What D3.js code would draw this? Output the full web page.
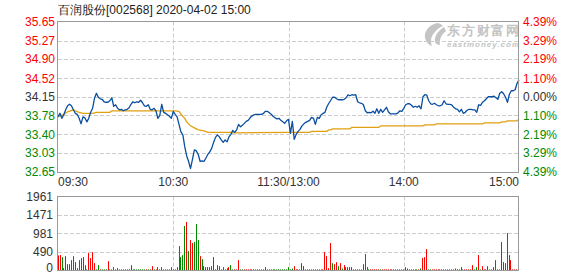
<!DOCTYPE html>
<html>
<head>
<meta charset="utf-8">
<script src="https://cdn.jsdelivr.net/npm/d3@7/dist/d3.min.js"></script>
<style>
html,body{margin:0;padding:0;background:#fff;}
svg{display:block;}
text{font-family:"Liberation Sans",Arial,sans-serif;}
</style>
</head>
<body>
<svg id="c" width="578" height="276"></svg>
<script>
// ---------------- data ----------------
const title = "百润股份[002568] 2020-04-02 15:00";
const preClose = 34.15;
const priceTicks = [35.65, 35.27, 34.90, 34.52, 34.15, 33.78, 33.40, 33.03, 32.65];
const priceTickLabels = ["35.65", "35.27", "34.90", "34.52", "34.15", "33.78", "33.40", "33.03", "32.65"];
const pctTickLabels = ["4.39%", "3.29%", "2.19%", "1.10%", "0.00%", "1.10%", "2.19%", "3.29%", "4.39%"];
const volTicks = [1961, 1471, 981, 490, 0];
const volTickLabels = ["1961", "1471", "981", "490", "0"];
const timeTickIdx = [0, 60, 120, 180, 240];
const timeTickLabels = ["09:30", "10:30", "11:30/13:00", "14:00", "15:00"];

// per-minute price (241 minutes)
const price = [
33.75,33.82,33.72,33.79,33.89,33.97,34.00,33.97,33.89,33.82,
33.80,33.72,33.61,33.75,33.73,33.65,33.72,33.84,33.92,34.12,
34.22,34.14,34.11,34.10,34.05,34.04,34.04,34.07,34.13,33.96,
33.99,33.92,33.89,33.90,33.87,33.89,33.90,33.93,34.00,34.05,
34.03,34.05,34.04,34.08,34.03,33.97,33.96,33.99,33.90,33.89,
33.92,33.87,33.72,33.78,34.00,33.84,33.82,33.79,33.76,33.72,
33.86,33.80,33.75,33.60,33.45,33.39,33.15,32.97,32.86,32.72,
32.90,33.09,33.07,33.00,32.86,32.87,32.86,32.93,33.00,33.05,
33.12,33.24,33.34,33.39,33.35,33.29,33.24,33.29,33.25,33.35,
33.40,33.48,33.44,33.49,33.60,33.55,33.58,33.62,33.66,33.68,
33.73,33.77,33.79,33.80,33.80,33.80,33.80,33.82,33.86,33.86,
33.83,33.80,33.76,33.73,33.71,33.72,33.68,33.65,33.62,33.67,
33.70,33.42,33.66,33.30,33.40,33.46,33.50,33.57,33.61,33.64,
33.66,33.68,33.74,33.72,33.60,33.74,33.72,33.79,33.82,33.84,
33.95,34.02,34.08,34.14,34.14,34.11,34.09,34.09,34.09,34.10,
34.13,34.19,34.17,34.19,34.18,34.19,34.05,34.03,34.02,33.99,
33.87,33.83,33.84,33.83,33.86,33.82,33.91,33.82,33.90,33.84,
33.89,33.94,33.85,33.81,33.81,33.81,33.81,33.83,33.87,33.86,
33.92,33.99,34.01,34.01,33.98,33.94,33.96,33.94,33.97,33.91,
34.15,34.19,34.18,34.07,34.01,34.00,34.02,33.99,33.97,33.97,
33.99,34.07,34.01,34.00,34.00,33.99,33.94,33.91,33.90,33.85,
33.90,33.82,33.84,33.88,33.90,33.90,33.89,33.89,33.84,33.99,
33.98,34.04,34.07,34.11,34.15,34.15,34.15,34.16,34.13,34.10,
34.22,34.25,34.21,34.14,34.04,34.20,34.27,34.27,34.29,34.42,
34.49
];

// average price line, read as [minute, value]
const avgMinute = [0,3,5,8,9,11,13,18,20,27,28,61,63,64,66,67,69,71,73,76,78,90,91,121,131,132,140,141,142,143,152,153,167,168,190,191,196,197,221,222,230,231,233,234,239,240];
const avgValue  = [33.75,33.80,33.85,33.89,33.87,33.84,33.82,33.82,33.84,33.84,33.87,33.87,33.86,33.80,33.72,33.65,33.57,33.53,33.49,33.47,33.44,33.44,33.43,33.44,33.44,33.46,33.46,33.49,33.49,33.51,33.51,33.54,33.54,33.57,33.57,33.59,33.59,33.61,33.61,33.63,33.63,33.65,33.65,33.67,33.67,33.70];

// per-minute volume (lots)
const volume = [
400,408,355,62,381,168,168,275,381,222,
62,275,328,355,142,30,461,328,488,195,
30,142,30,30,30,30,248,30,30,89,
30,62,30,30,30,30,30,30,142,30,
30,30,30,30,30,30,30,30,30,115,
30,30,89,30,89,30,30,30,30,89,
30,30,89,648,355,408,1180,1286,514,807,
727,754,1233,807,381,302,115,89,89,89,
115,355,30,142,115,30,89,30,62,89,
142,30,30,30,275,30,30,30,30,30,
30,30,30,30,30,30,30,30,89,30,
30,30,30,30,30,30,30,30,30,30,
89,30,53,115,30,30,30,195,115,30,
30,30,30,30,30,30,30,30,30,488,
381,62,727,195,168,222,115,195,53,142,
89,89,89,89,30,30,30,30,30,168,
435,89,30,30,30,30,30,30,30,30,
30,30,30,30,30,30,30,30,30,30,
30,89,53,30,30,30,30,30,30,53,
328,355,568,30,30,30,30,30,30,30,
30,30,30,30,30,30,30,53,30,30,
89,30,30,30,30,30,142,30,89,408,
30,115,30,30,115,30,30,89,275,30,
30,754,222,195,993,408,275,30,30,30,
1818
];
// bar direction: r = up (red), g = down (green)
const volDir = (
"rrgrrrrggg" + "gggrggrrrr" + "ggrgggrrgg" + "rggggrrrrg" + "ggggggrgrr" +
"grgrgrgggg" + "rggggggrgr" + "rgggrgrrrg" + "rrrrgggrrr" + "ggrrrggrrr" +
"rrrrrrrrrg" + "gggggggggg" + "gggrrrrrrg" + "rrgrrrrrrr" + "rrrgrrgrgr" +
"rgrrgrrrgg" + "gggrrrrrgr" + "rrrrrrrrrr" + "rrgrrrrgrg" + "rrrggrrrrr" +
"rrgggggggr" + "rgrrrrrggr" + "grrrrrrrgg" + "rrrggrrrrr" + "r"
).split("");

// ---------------- layout ----------------
const L = 58, R = 519;
const T1 = 21.5, B1 = 172;
const T2 = 196.5, B2 = 270.5;
const RED = "#ff0000", GREEN = "#008a00", DARK = "#333333";
const GRID = "#cccccc", AXIS = "#999999";

const svg = d3.select("#c");
const x = d3.scaleLinear().domain([0, 240]).range([L, R]);
const xv = d3.scaleLinear().domain([0, 240]).range([58.2, 518.6]);
const y = d3.scaleLinear().domain([32.65, 35.65]).range([B1, T1]);
const yv = d3.scaleLinear().domain([0, 1961]).range([B2, T2]);
const crisp = v => Math.round(v) + 0.5;

// title
svg.append("text").attr("x", L).attr("y", 13.5)
  .attr("font-family", "'Noto Sans CJK SC','Liberation Sans',sans-serif")
  .attr("font-size", 12).attr("fill", "#222").text(title);

// watermark
const wm = svg.append("g").attr("fill", "#c4c4c4");
wm.append("path").attr("d",
  "M437,23 C429,25 424,31 425,38 C426,42 429,45 432,46 C430,41 431,36 435,32 C437,29 440,27 443,26 C441,24 439,23 437,23 Z");
wm.append("path").attr("d",
  "M444,27 C438,31 434,36 435,42 C436,44 438,45 440,45 C439,40 441,35 446,31 Z");
wm.append("text").attr("x", 447).attr("y", 35)
  .attr("font-family", "'Noto Sans CJK SC',sans-serif").attr("font-weight", "bold")
  .attr("font-size", 13).attr("textLength", 72).text("东方财富网");
wm.append("text").attr("x", 447).attr("y", 46.5)
  .attr("font-weight", "bold").attr("font-style", "italic")
  .attr("font-size", 8).attr("textLength", 72).text("eastmoney.com");

// grid
const gp = svg.append("g").attr("stroke", GRID).attr("stroke-dasharray", "4,2").attr("fill", "none");
priceTicks.slice(1, -1).forEach(t => {
  gp.append("line").attr("x1", L).attr("x2", R).attr("y1", crisp(y(t))).attr("y2", crisp(y(t)));
});
timeTickIdx.slice(1, -1).forEach(i => {
  gp.append("line").attr("x1", crisp(x(i))).attr("x2", crisp(x(i))).attr("y1", T1).attr("y2", B1);
  gp.append("line").attr("x1", crisp(x(i))).attr("x2", crisp(x(i))).attr("y1", T2).attr("y2", B2);
});
volTicks.slice(1, -1).forEach(t => {
  gp.append("line").attr("x1", L).attr("x2", R).attr("y1", crisp(yv(t))).attr("y2", crisp(yv(t)));
});

// average line
const avgPts = avgMinute.map((m, k) => [m, avgValue[k]]);
svg.append("path").datum(avgPts)
  .attr("fill", "none").attr("stroke", "#e0a010").attr("stroke-width", 1.3)
  .attr("d", d3.line().x(d => x(d[0])).y(d => y(d[1])));

// price line
svg.append("path").datum(price)
  .attr("fill", "none").attr("stroke", "#0a4ea0").attr("stroke-width", 1.3)
  .attr("stroke-linejoin", "round")
  .attr("d", d3.line().x((d, i) => x(i)).y(d => y(d)));

// volume bars
svg.append("g").selectAll("rect").data(volume).join("rect")
  .attr("x", (d, i) => Math.floor(xv(i)))
  .attr("width", 1)
  .attr("y", d => Math.min(yv(d), B2 - 1))
  .attr("height", d => Math.max(1, B2 - yv(d)))
  .attr("fill", (d, i) => volDir[i] === "r" ? RED : GREEN);

// panel borders
svg.append("rect").attr("x", crisp(L) - 1).attr("y", crisp(T1) - 1)
  .attr("width", Math.round(R - L)).attr("height", Math.round(B1 - T1))
  .attr("fill", "none").attr("stroke", AXIS);
svg.append("rect").attr("x", crisp(L) - 1).attr("y", crisp(T2) - 1)
  .attr("width", Math.round(R - L)).attr("height", Math.round(B2 - T2))
  .attr("fill", "none").attr("stroke", AXIS);

// price axis labels (left) and percent labels (right)
const colorFor = t => t > preClose + 1e-9 ? RED : (t < preClose - 1e-9 ? GREEN : DARK);
priceTicks.forEach((t, k) => {
  svg.append("text").attr("x", 55).attr("y", y(t)).attr("dy", "0.36em")
    .attr("text-anchor", "end").attr("font-size", 12).attr("fill", colorFor(t))
    .text(priceTickLabels[k]);
  svg.append("text").attr("x", 523).attr("y", y(t)).attr("dy", "0.36em")
    .attr("text-anchor", "start").attr("font-size", 12).attr("fill", colorFor(t))
    .text(pctTickLabels[k]);
});

// volume axis labels
volTicks.forEach((t, k) => {
  svg.append("text").attr("x", 53).attr("y", Math.min(yv(t), 268)).attr("dy", "0.36em")
    .attr("text-anchor", "end").attr("font-size", 12).attr("fill", DARK)
    .text(volTickLabels[k]);
});

// time labels
timeTickIdx.forEach((m, k) => {
  const anchor = k === 0 ? "start" : (k === timeTickIdx.length - 1 ? "end" : "middle");
  svg.append("text").attr("x", x(m)).attr("y", 182).attr("dy", "0.36em")
    .attr("text-anchor", anchor).attr("font-size", 12).attr("fill", DARK)
    .text(timeTickLabels[k]);
});
</script>
</body>
</html>
